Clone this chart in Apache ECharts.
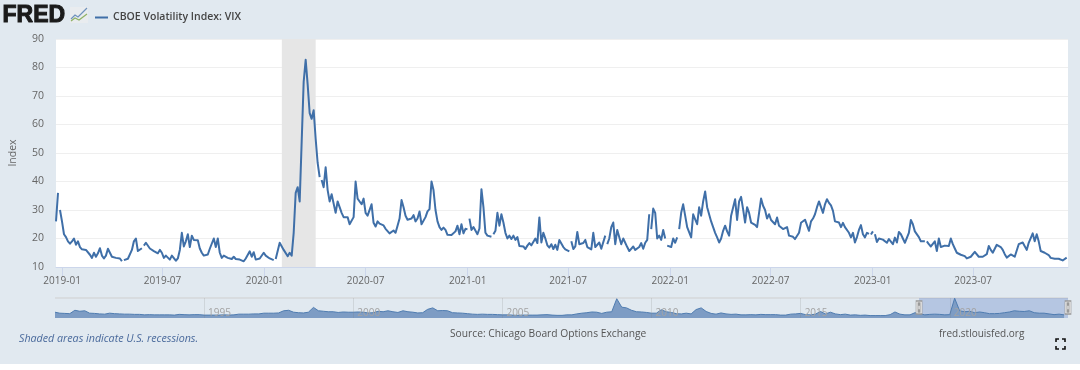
<!DOCTYPE html>
<html><head><meta charset="utf-8">
<style>html,body{margin:0;padding:0;background:#fff}#c{width:1080px;height:364px}</style>
<script src="https://cdn.jsdelivr.net/npm/echarts@6/dist/echarts.min.js"></script>
</head><body><div id="c"></div>
<script>
const seriesName='CBOE Volatility Index: VIX';
const yTicks=[10,20,30,40,50,60,70,80,90];
const xTickLabels=['2019-01','2019-07','2020-01','2020-07','2021-01','2021-07','2022-01','2022-07','2023-01','2023-07'];
const navYearLabels=['1995','2000','2005','2010','2015','2020'];
const recession=['2020-02-01','2020-04-02'];
const sampleStart='2018-12-21', sampleStepDays=3.6, axisEnd='2023-12-19';
const holidayGaps=['2018-12-25','2019-04-19','2019-05-27','2020-01-20','2020-04-10','2021-01-01','2021-02-15','2021-07-05','2021-09-06','2021-11-25','2021-12-24','2022-01-17','2022-12-26','2023-01-02','2023-04-07'];
const vixA=[26,36,30,26,21.5,20.5,19,18.2,19,20,17.8,19,17,16.2,15.8,16,15.6,14.3,13.2,15,13.6,14.8,16.6,14,13,14,16.4,15,13.6,13.8,13.2,12.6,13,12,12.4,13,12.9,13.2,16,19,20,15.6,16,16.6,17.5,18.5,19,16.5,16,15.6];
const vixB=[15.4,14.8,16,15,13.2,14,13.6,12.6,14,14.4,12.2,13,16,22,17.2,19,21.5,17,21,19.5,19.6,19.4,16.5,15,14,14.6,14.4,16.4,17,20,17,20,15,13.2,14,14.4,13.2,13,12.8,13.6,12.8,13,12.6,12.8,12,13,13.4,15.5,13.6,15.2];
const vixC=[12.6,12.8,13,13.2,15,14,13.4,13,12.6,12.4,12.8,13.5,18.5,18.8,16,15.5,13.8,15,14,22,36,38,33,54,75,82.7,74,64,62,65,55,46.5,41.5,40.5,38,45,37,33,35.5,35,29,33,31,29,27.5,27.8,27.5,25,24.5,27.5];
const vixD=[40,34,33,32,34,29,28,27.5,32,25.5,24.2,26,25.2,24.6,24.6,23.4,22.7,21.8,21.6,22.8,22,24.5,27,33.5,31,28,26.6,26,27,28.2,26,27,29.5,25,25.6,27.5,29.5,30.3,40,37,30,26,24,23,23.8,23,21.3,21,21.2,21.3];
const vixE=[22.5,24.5,21.5,25,21.8,23.4,23.2,27,23,24,23.6,21.5,23.5,37.3,31,22,21,21.6,20.6,21.5,22.7,29,24.5,28.5,25.6,22,20,21,19.8,21,19.5,20.5,17.4,17,17.2,16.3,17.5,18.4,17.6,17.5,20,18.4,27.4,18.6,22,20,17.6,16.8,18,16.3];
const vixF=[17.8,16,19.5,19,17,16.2,15.8,15.5,19,16.3,17.2,22.3,18,17.6,18.4,19.5,17,16.5,16.2,22,17,17.8,18.6,16.4,16.5,21,18,20,24,25.6,18,23,22.8,18,20,20,17,15.6,15.4,17.2,16,16.4,17,18.4,16.4,18.5,19.5,28.5,23.3,30.5];
const vixG=[29,20,21,19.5,23,20,17.5,17.2,17,20,18.5,20.4,23.3,29,32,28,24,24.6,20.4,28.5,29,25,31,28,33,36.5,31,30.5,26,24,22,20.4,18.6,20,22.7,24.5,22.5,21,28,27.4,33.8,26.5,33,34.6,30.3,25.6,31,29,25.6,26];
const vixH=[24.8,24,23.6,34,31.5,30,27,28.5,26.5,26,25,27.4,24.5,24,23.3,23.5,24,21,21.6,20.6,19.8,19.9,22,25.5,26,26.6,26.8,22.7,26,27,28.5,31,33,31,29,32,33.8,32.5,31.6,29.7,26,25.8,25.6,24,25.5,24,23.3,22,20.4,22];
const vixI=[18.6,20.5,23,24.7,21.5,20.4,22,21.6,21.4,22.5,21.5,18.8,20,20.4,19.6,19.2,18.5,19.8,19.4,18,20.3,18.6,22.3,21.5,20,18.5,18.8,22,26.5,25,22.5,22,20.5,19,19,19,19,18,17.2,17.5,19,15.6,20,17,17.5,17.5,17.6,17.4,20,18];
const vixJ=[16.5,15,14.6,14.3,14,13.8,13,13.6,13.6,14,15.3,15,13.6,13.5,13.6,13.6,14.5,17.4,16,15,15.6,17.8,17.6,17,16,14.5,13.3,14,14.4,13.8,13.6,13,18,17.5,18.6,18.6,16,18.5,19,21.8,19,21.5,19,15.6,15.2,15,14.6,14.2,13.2,12.7,12.9,13,12.9,12.6,12.3,12.6,13.3];
const navStart='1990-01-01', navEnd='2023-12-19', navStepMonths=2;
const nav1990s=[24,20,19,18,32,28, 30,20,19,17,16,20, 18,17,16,16,15,15, 13,14,13,13,13,13, 12,15,14,13,14,14, 12,12,12,12,13,12, 13,16,16,16,17,17, 20,20,20,21,30,32, 24,22,21,24,44,30, 28,26,26,23,25,24];
const nav2000s=[24,25,24,21,22,28, 26,30,26,23,30,26, 24,21,22,36,42,30, 31,30,22,21,20,18, 16,15,16,15,15,14, 13,13,12,11,12,12, 12,12,13,14,12,11, 11,13,13,17,20,22, 25,24,19,24,26,80, 45,42,32,26,25,23];
const nav2010s=[20,20,34,26,23,18, 17,20,17,35,42,27, 19,16,21,17,15,16, 13,13,14,13,15,14, 14,14,12,12,16,17, 19,14,13,16,27,17, 24,17,14,16,12,13, 11,12,10,10,10,10, 14,25,16,13,13,22, 18,13,15,16,15,13];
const nav2020s=[14,82,30,26,28,22, 25,22,18,18,19,22, 25,30,28,27,30,22, 20,20,17,14,16,13];

const DAY=86400000;
const ts=s=>{const p=s.split('-').map(Number);return Date.UTC(p[0],(p[1]||1)-1,p[2]||1);};
const vix=[].concat(vixA,vixB,vixC,vixD,vixE,vixF,vixG,vixH,vixI,vixJ);
const pts=vix.map((v,i)=>[ts(sampleStart)+i*sampleStepDays*DAY,v]);
holidayGaps.forEach(g=>pts.push([ts(g),null]));
pts.sort((a,b)=>a[0]-b[0]);
const navVals=[].concat(nav1990s,nav2000s,nav2010s,nav2020s);
const navPts=navVals.map((v,i)=>[Date.UTC(1990,i*navStepMonths,1),v]);
const font='"Open Sans",sans-serif', lineCol='#3f6fa8';
const pad=n=>String(n).padStart(2,'0');
const xTicks=xTickLabels.map(ts), navTicks=navYearLabels.map(ts);

const chart=echarts.init(document.getElementById('c'),null,{renderer:'canvas'});
chart.setOption({
 animation:false,backgroundColor:'#E1E9F0',
 legend:{data:[seriesName],left:90,top:7,icon:'rect',itemWidth:13,itemHeight:2,itemGap:4,
   textStyle:{fontFamily:font,fontSize:10.5,fontWeight:600,color:'#444'}},
 grid:[
  {left:55,top:39,width:1013,height:228,show:true,backgroundColor:'#fff',borderWidth:0},
  {left:55,top:298,width:1013,height:20,show:false}
 ],
 xAxis:[
  {type:'value',gridIndex:0,min:ts(sampleStart),max:ts(axisEnd),scale:true,
   axisLine:{show:true,onZero:false,lineStyle:{color:'#ccd6eb'}},
   axisTick:{show:true,length:10,lineStyle:{color:'#ccd6eb'},customValues:xTicks},
   axisLabel:{customValues:xTicks,margin:9,color:'#666',fontFamily:font,fontSize:10,hideOverlap:false,
     formatter:v=>{const d=new Date(v);return d.getUTCFullYear()+'-'+pad(d.getUTCMonth()+1);}},
   splitLine:{show:false}},
  {type:'value',gridIndex:1,min:ts(navStart),max:ts(navEnd),scale:true,z:6,
   axisLine:{show:false,onZero:false},
   axisTick:{show:true,inside:true,length:20,lineStyle:{color:'rgba(120,120,120,0.18)'},customValues:navTicks},
   axisLabel:{inside:true,customValues:navTicks,margin:0,align:'left',padding:[0,0,0,4],color:'#a3a3a3',fontFamily:font,fontSize:10,
     formatter:v=>String(new Date(v).getUTCFullYear())},
   splitLine:{show:false}}
 ],
 yAxis:[
  {type:'value',gridIndex:0,min:10,max:90,interval:10,name:'Index',nameLocation:'middle',nameGap:37,
   nameTextStyle:{color:'#666',fontFamily:font,fontSize:10.5},
   axisLine:{show:false},axisTick:{show:false},
   axisLabel:{color:'#666',margin:12,fontFamily:font,fontSize:10.5},
   splitLine:{lineStyle:{color:'#efefef',width:1}}},
  {type:'value',gridIndex:1,min:0,max:83,show:false}
 ],
 series:[
  {name:seriesName,type:'line',xAxisIndex:0,yAxisIndex:0,data:pts,showSymbol:false,connectNulls:false,z:3,
   lineStyle:{color:lineCol,width:2,join:'round'},itemStyle:{color:lineCol},
   markArea:{silent:true,itemStyle:{color:'#e6e6e6',opacity:1},data:[[{xAxis:ts(recession[0])},{xAxis:ts(recession[1])}]]}},
  {name:'navigator',type:'line',xAxisIndex:1,yAxisIndex:1,data:navPts,showSymbol:false,z:3,
   lineStyle:{color:'#4f7cb0',width:1},areaStyle:{color:'#7d9cc4',opacity:1},itemStyle:{color:'#4f7cb0'},
   markArea:{silent:true,itemStyle:{color:'rgba(90,125,195,0.32)',opacity:1},data:[[{xAxis:ts(sampleStart)},{xAxis:ts(navEnd)}]]},
   markPoint:{silent:true,symbol:'rect',symbolSize:[6,13],itemStyle:{color:'#f4f4f4',borderColor:'#999',borderWidth:1},label:{show:false},
     data:[{coord:[ts(sampleStart),43.5]},{coord:[ts(navEnd),43.5]},
           {coord:[ts(sampleStart),43.5],symbolSize:[2,7],itemStyle:{color:'#fff',borderColor:'#999',borderWidth:1}},
           {coord:[ts(navEnd),43.5],symbolSize:[2,7],itemStyle:{color:'#fff',borderColor:'#999',borderWidth:1}}]}}
 ],
 graphic:[
  {type:'text',left:2,top:4,z:10,style:{text:'FRED',fontFamily:'"Liberation Sans",Arial,sans-serif',fontWeight:900,fontSize:23,fill:'#1a1a1a',stroke:'#1a1a1a',lineWidth:1}},
  {type:'rect',z:9,shape:{x:70,y:7,width:18,height:16},style:{fill:'#e9ecef'}},
  {type:'polyline',z:10,shape:{points:[[71,19],[75,15],[78,17],[83,12],[87,8]]},style:{stroke:'#6f92bd',lineWidth:1.2,fill:null}},
  {type:'polyline',z:10,shape:{points:[[71,21],[75,18],[79,20],[83,17],[87,14]]},style:{stroke:'#8fb266',lineWidth:1.2,fill:null}},
  {type:'line',z:1,shape:{x1:55,y1:298,x2:1068,y2:298},style:{stroke:'#cfcfcf',lineWidth:1}},
  {type:'text',left:19,top:333,z:10,style:{text:'Shaded areas indicate U.S. recessions.',fontFamily:font,fontStyle:'italic',fontSize:10.7,fill:'#4a6a9c'}},
  {type:'text',left:450,top:329,z:10,style:{text:'Source: Chicago Board Options Exchange',fontFamily:font,fontSize:10.25,fill:'#555'}},
  {type:'text',left:939,top:329,z:10,style:{text:'fred.stlouisfed.org',fontFamily:font,fontSize:10,fill:'#555'}},
  {type:'polyline',z:10,shape:{points:[[1056,342],[1056,339],[1059,339]]},style:{stroke:'#111',lineWidth:1.6,fill:null}},
  {type:'polyline',z:10,shape:{points:[[1062,339],[1065,339],[1065,342]]},style:{stroke:'#111',lineWidth:1.6,fill:null}},
  {type:'polyline',z:10,shape:{points:[[1056,346],[1056,349],[1059,349]]},style:{stroke:'#111',lineWidth:1.6,fill:null}},
  {type:'polyline',z:10,shape:{points:[[1062,349],[1065,349],[1065,346]]},style:{stroke:'#111',lineWidth:1.6,fill:null}}
 ]
});
</script></body></html>
